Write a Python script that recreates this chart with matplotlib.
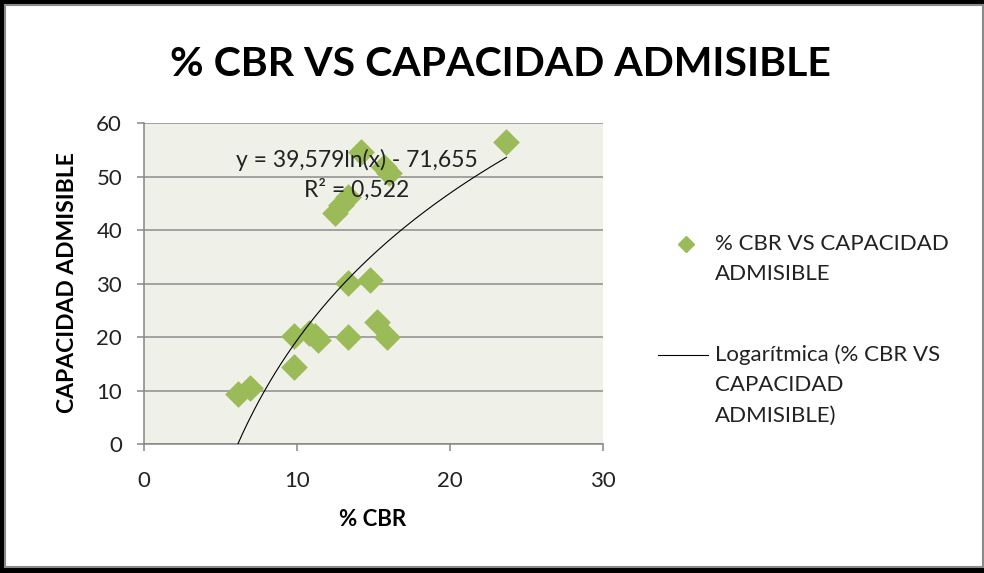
import numpy as np
import matplotlib
matplotlib.use('Agg')
import matplotlib.pyplot as plt
from matplotlib.patches import Rectangle
from matplotlib.lines import Line2D

plt.rcParams['font.family'] = ['Lato', 'DejaVu Sans']

W, H = 984, 573
GREEN = '#9bbb59'
PLOT_BG = '#eff1e9'
GRID = '#8c8c8c'

# % CBR vs capacidad admisible (ensayos)
cbr = [6.1, 6.9, 9.8, 9.8, 10.8, 11.2, 11.4, 13.35, 15.25, 15.9,
       13.35, 14.75, 12.5, 12.9, 13.3, 14.2, 15.7, 16.0, 23.7]
cap = [9.4, 10.5, 14.4, 20.2, 20.8, 20.2, 19.5, 20.1, 22.9, 20.1,
       30.1, 30.8, 43.2, 44.8, 46.3, 54.7, 51.9, 50.7, 56.5]

# logarithmic trendline y = a ln(x) + b
trend_a = 39.579
trend_b = -71.655
r2 = 0.522

x_ticks = [0, 10, 20, 30]
y_ticks = [0, 10, 20, 30, 40, 50, 60]


def fx(px):
    return px / W


def fy(py):
    return 1 - py / H


fig = plt.figure(figsize=(W / 100, H / 100), dpi=100, facecolor='black')
fig.patches.append(Rectangle((fx(5), fy(567)), fx(978), 562 / H,
                             transform=fig.transFigure, facecolor='white',
                             edgecolor='#8a8a8a', lw=1.5, zorder=-5))

ax = fig.add_axes([fx(144.3), fy(444.3), fx(602.7 - 144.3), (444.3 - 123.3) / H])
ax.set_facecolor(PLOT_BG)
ax.set_xlim(0, 30)
ax.set_ylim(0, 60)
ax.set_xticks(x_ticks)
ax.set_yticks(y_ticks)
ax.yaxis.grid(True, color=GRID, lw=1.1)
ax.set_axisbelow(True)
for side in ['top', 'right']:
    ax.spines[side].set_visible(False)
for side in ['left', 'bottom']:
    ax.spines[side].set_color('#868686')
    ax.spines[side].set_linewidth(1.1)
ax.tick_params(axis='both', direction='out', length=5, width=1.1,
               color='#868686', labelsize=16, labelcolor='#222222')
ax.tick_params(axis='y', pad=11)
ax.tick_params(axis='x', pad=14)

ax.scatter(cbr, cap, marker='D', s=185, color=GREEN, linewidths=0, zorder=3)

xs = np.linspace(min(cbr), max(cbr), 200)
ax.plot(xs, trend_a * np.log(xs) + trend_b, color='black', lw=0.8, zorder=4)

eq = f'y = {trend_a:.3f}ln(x) - {abs(trend_b):.3f}'.replace('.', ',')
fig.text(fx(357), fy(160), eq, ha='center', va='center', fontsize=16.5,
         color='#222222', zorder=5)
fig.text(fx(357), fy(190), f'R² = {r2:.3f}'.replace('.', ','), ha='center',
         va='center', fontsize=16.5, color='#222222', zorder=5)

fig.text(fx(500), fy(64), '% CBR VS CAPACIDAD ADMISIBLE', ha='center',
         va='center', fontsize=29.5, fontweight='bold')
fig.text(fx(373), fy(519), '% CBR', ha='center', va='center', fontsize=16,
         fontweight='bold')
fig.text(fx(68), fy(283), 'CAPACIDAD ADMISIBLE', ha='center', va='center',
         rotation=90, fontsize=16.5, fontweight='bold')

# legend
fig.add_artist(Line2D([fx(686)], [fy(244)], marker='D', markersize=8.5,
                      color=GREEN, lw=0))
fig.add_artist(Line2D([fx(658), fx(708)], [fy(355), fy(355)], color='black', lw=0.8))
leg_font = dict(ha='left', va='center', fontsize=16, color='#222222')
for py, txt in [(244, '% CBR VS CAPACIDAD'), (274, 'ADMISIBLE'),
                (355, 'Logarítmica (% CBR VS'), (385, 'CAPACIDAD'),
                (416, 'ADMISIBLE)')]:
    fig.text(fx(715), fy(py), txt, **leg_font)

fig.savefig('out.png', dpi=100, facecolor='black')
